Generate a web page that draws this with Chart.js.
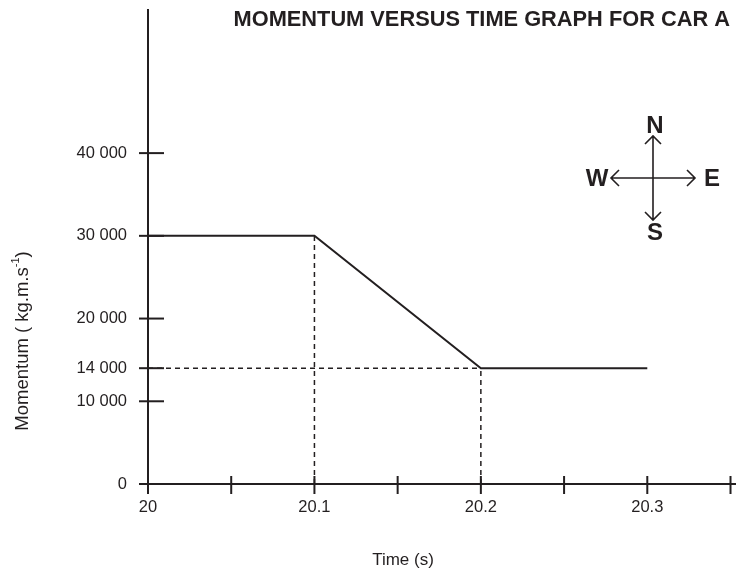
<!DOCTYPE html>
<html>
<head>
<meta charset="utf-8">
<script src="https://cdn.jsdelivr.net/npm/chart.js@4"></script>
<style>
  html, body { margin: 0; padding: 0; background: #fff; }
  #wrap { width: 736px; height: 569px; }
</style>
</head>
<body>
<div id="wrap"><canvas id="myChart"></canvas></div>
<script>
const times = [20, 20.1, 20.2, 20.3];
const momentum = [30000, 30000, 14000, 14000];
const yTicks = [0, 10000, 14000, 20000, 30000, 40000];
const xTicks = [20, 20.05, 20.1, 20.15, 20.2, 20.25, 20.3, 20.35];
const xLabelled = [20, 20.1, 20.2, 20.3];

const ink = "#231f20";
const font = "'Liberation Sans', Arial, sans-serif";

// main line + dashed guides back to the axes
const points = times.map((t, i) => ({ x: t, y: momentum[i] }));
const guideH = [{ x: times[0], y: momentum[2] }, { x: times[2], y: momentum[2] }];
const guideV1 = [{ x: times[1], y: 0 }, { x: times[1], y: momentum[1] }];
const guideV2 = [{ x: times[2], y: 0 }, { x: times[2], y: momentum[2] }];

function dashed(data) {
  return {
    data: data,
    showLine: true,
    borderColor: ink,
    borderWidth: 1.5,
    borderDash: [5, 4],
    pointRadius: 0,
  };
}

function fmt(v) {
  return v === 0 ? "0" : v.toLocaleString("en-US").replace(/,/g, " ");
}

function noPad(s) {
  s.paddingTop = 0;
  s.paddingBottom = 0;
  s.paddingLeft = 0;
  s.paddingRight = 0;
}

const decor = {
  id: "decor",
  afterDraw(chart) {
    const ctx = chart.ctx;
    const xs = chart.scales.x;
    const ys = chart.scales.y;
    ctx.save();
    ctx.strokeStyle = ink;
    ctx.fillStyle = ink;
    ctx.lineWidth = 2;

    // tick marks crossing the axes
    xs.ticks.forEach((t) => {
      const px = xs.getPixelForValue(t.value);
      ctx.beginPath();
      ctx.moveTo(px, ys.bottom - 8);
      ctx.lineTo(px, ys.bottom + 10);
      ctx.stroke();
    });
    ys.ticks.forEach((t) => {
      const py = ys.getPixelForValue(t.value);
      ctx.beginPath();
      ctx.moveTo(xs.left - 9, py);
      ctx.lineTo(xs.left + 16, py);
      ctx.stroke();
    });

    // title
    ctx.font = "bold 21.8px " + font;
    ctx.textAlign = "right";
    ctx.textBaseline = "alphabetic";
    ctx.fillText("MOMENTUM VERSUS TIME GRAPH FOR CAR A", 730, 26);

    // x title
    ctx.font = "17px " + font;
    ctx.textAlign = "center";
    ctx.fillText("Time (s)", 403, 565);

    // y title with superscript
    ctx.translate(23, 341);
    ctx.rotate(-Math.PI / 2);
    ctx.textBaseline = "middle";
    ctx.textAlign = "left";
    const a = "Momentum ( kg.m.s", sup = "-1", b = ")";
    ctx.font = "18.5px " + font;
    const wa = ctx.measureText(a).width, wb = ctx.measureText(b).width;
    ctx.font = "11px " + font;
    const ws = ctx.measureText(sup).width;
    let x0 = -(wa + ws + wb) / 2;
    ctx.font = "18.5px " + font;
    ctx.fillText(a, x0, 0);
    ctx.font = "11px " + font;
    ctx.fillText(sup, x0 + wa, -7);
    ctx.font = "18.5px " + font;
    ctx.fillText(b, x0 + wa + ws, 0);
    ctx.setTransform(1, 0, 0, 1, 0, 0);

    // compass
    const cx = 653, cy = 178, r = 42, h = 8;
    ctx.lineWidth = 1.6;
    ctx.beginPath();
    ctx.moveTo(cx - r, cy); ctx.lineTo(cx + r, cy);
    ctx.moveTo(cx, cy - r); ctx.lineTo(cx, cy + r);
    // heads
    ctx.moveTo(cx - r + h, cy - h); ctx.lineTo(cx - r, cy); ctx.lineTo(cx - r + h, cy + h);
    ctx.moveTo(cx + r - h, cy - h); ctx.lineTo(cx + r, cy); ctx.lineTo(cx + r - h, cy + h);
    ctx.moveTo(cx - h, cy - r + h); ctx.lineTo(cx, cy - r); ctx.lineTo(cx + h, cy - r + h);
    ctx.moveTo(cx - h, cy + r - h); ctx.lineTo(cx, cy + r); ctx.lineTo(cx + h, cy + r - h);
    ctx.stroke();
    ctx.font = "bold 24px " + font;
    ctx.textAlign = "center";
    ctx.textBaseline = "middle";
    ctx.fillText("N", 655, 126);
    ctx.fillText("S", 655, 233);
    ctx.fillText("W", 597, 179);
    ctx.fillText("E", 712, 179);
    ctx.restore();
  },
};

new Chart(document.getElementById("myChart"), {
  type: "scatter",
  data: {
    datasets: [
      {
        data: points,
        showLine: true,
        borderColor: ink,
        borderWidth: 2,
        pointRadius: 0,
      },
      dashed(guideH),
      dashed(guideV1),
      dashed(guideV2),
    ],
  },
  options: {
    responsive: true,
    maintainAspectRatio: false,
    animation: false,
    layout: { autoPadding: false, padding: { top: 10, left: 0, right: 0, bottom: 0 } },
    plugins: { legend: { display: false }, tooltip: { enabled: false } },
    scales: {
      x: {
        type: "linear",
        min: 20,
        max: 20.3533,
        afterBuildTicks: (s) => { s.ticks = xTicks.map((v) => ({ value: v })); },
        afterFit: (s) => { s.height = 85; noPad(s); },
        grid: { display: false, drawTicks: false },
        border: { display: true, color: ink, width: 2 },
        ticks: {
          autoSkip: false,
          maxRotation: 0,
          padding: 14,
          color: ink,
          font: { family: font, size: 16.5 },
          callback: (v) => (xLabelled.includes(v) ? String(v) : ""),
        },
      },
      y: {
        min: 0,
        max: 57300,
        afterBuildTicks: (s) => { s.ticks = yTicks.map((v) => ({ value: v })); },
        afterFit: (s) => { s.width = 148; noPad(s); },
        grid: { display: false, drawTicks: false },
        border: { display: true, color: ink, width: 2 },
        ticks: {
          autoSkip: false,
          padding: 21,
          color: ink,
          font: { family: font, size: 16.5 },
          callback: (v) => fmt(v),
        },
      },
    },
  },
  plugins: [decor],
});
</script>
</body>
</html>
